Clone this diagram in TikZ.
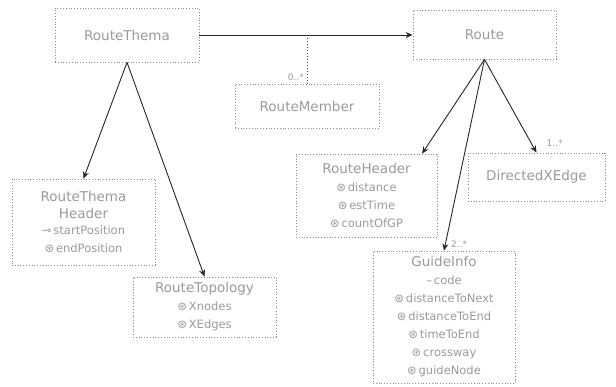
\documentclass[tikz,border=0pt]{standalone}
\usepackage{fontspec}
\setmainfont{DejaVu Sans}
\usetikzlibrary{arrows.meta,calc}
\definecolor{boxline}{HTML}{8A8A8A}
\definecolor{boxtext}{HTML}{9A9A9A}
\tikzset{
  classbox/.style={draw=boxline, dotted, line width=0.8pt, rectangle, inner sep=2pt,
    text=boxtext, align=center, font=\fontsize{13.5}{18}\selectfont},
  assoc/.style={draw=black!85, line width=0.9pt, -{Stealth[length=7pt,width=6pt]}},
  link/.style={draw=black!70, line width=0.6pt, dash pattern=on 1.5pt off 1.5pt},
  mult/.style={text=boxtext, font=\fontsize{9}{10}\selectfont, inner sep=1pt},
}
\newcommand{\attr}[2]{{\fontsize{11.5}{18}\selectfont #1\,#2}}
\begin{document}
\begin{tikzpicture}[x=1pt,y=-1pt]
\useasboundingbox (0,0) rectangle (616,387);

% classes
\node[classbox, minimum width=144, minimum height=54] (rt) at (127,35) {RouteThema};
\node[classbox, minimum width=143, minimum height=49] (route) at (484.5,34.5) {Route};
\node[classbox, minimum width=144, minimum height=44] (rm) at (307,106) {RouteMember};
\node[classbox, minimum width=143, minimum height=86] (rth) at (83.5,222)
  {RouteThema\\[-1pt]Header\\[-2pt]\attr{⊸}{startPosition}\\\attr{⊛}{endPosition}};
\node[classbox, minimum width=143, minimum height=60] (rtop) at (204.5,307)
  {RouteTopology\\\attr{⊛}{Xnodes}\\\attr{⊛}{XEdges}};
\node[classbox, minimum width=141, minimum height=83] (rh) at (366.5,195.5)
  {RouteHeader\\\attr{⊛}{distance}\\\attr{⊛}{estTime}\\\attr{⊛}{countOfGP}};
\node[classbox, minimum width=137, minimum height=48] (dx) at (536.5,177) {DirectedXEdge};
\node[classbox, minimum width=142, minimum height=132] (gi) at (444,317)
  {GuideInfo\\\attr{–}{code}\\\attr{⊛}{distanceToNext}\\\attr{⊛}{distanceToEnd}\\\attr{⊛}{timeToEnd}\\\attr{⊛}{crossway}\\\attr{⊛}{guideNode}};

% associations
\draw[assoc] (rt.east) -- (route.west |- rt.east);
\coordinate (mid) at (rm.north |- rt.east);
\draw[link] (mid) -- (rm.north);
\node[mult, anchor=south east] at ([xshift=-2pt,yshift=2pt]rm.north) {0..*};

\draw[assoc] (rt.south) -- (rth.north);
\draw[assoc] (rt.south) -- (rtop.north);

\draw[assoc] (route.south) -- (rh.37);
\draw[assoc] (route.south) -- (gi.north);
\draw[assoc] (route.south) -- (dx.north);
\node[mult, anchor=south west] at ([xshift=9pt,yshift=5pt]dx.north) {1..*};
\node[mult, anchor=south west] at ([xshift=6pt,yshift=2pt]gi.north) {2..*};
\end{tikzpicture}
\end{document}
